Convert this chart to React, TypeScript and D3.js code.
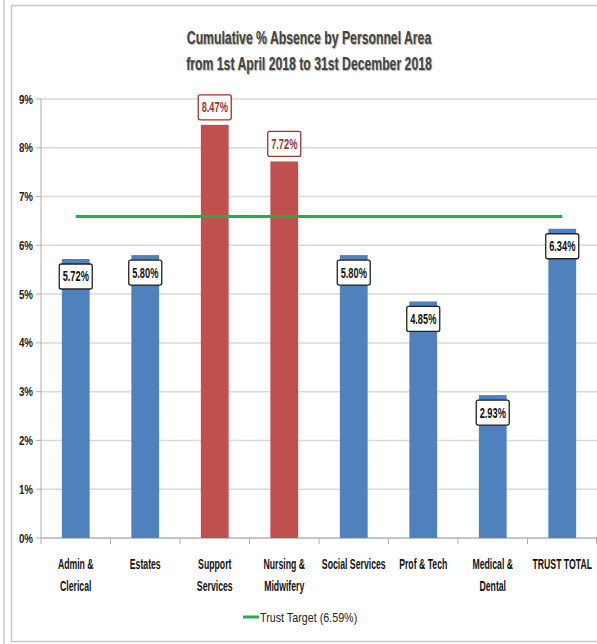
import React from "react";
import * as d3 from "d3";

const categories: string[][] = [
  ["Admin &", "Clerical"],
  ["Estates"],
  ["Support", "Services"],
  ["Nursing &", "Midwifery"],
  ["Social Services"],
  ["Prof & Tech"],
  ["Medical &", "Dental"],
  ["TRUST TOTAL"],
];
const values: number[] = [5.72, 5.8, 8.47, 7.72, 5.8, 4.85, 2.93, 6.34];
const target = 6.59;
const yTicks: number[] = [0, 1, 2, 3, 4, 5, 6, 7, 8, 9];
const titleLines: string[] = [
  "Cumulative % Absence by Personnel Area",
  "from 1st April 2018 to 31st December 2018",
];
const legendLabel = "Trust Target (6.59%)";

const FONT = "'Liberation Sans', Arial, sans-serif";

function CText(props: {
  x: number;
  y: number;
  sx: number;
  anchor?: string;
  size: number;
  weight?: string;
  fill: string;
  children: React.ReactNode;
  style?: React.CSSProperties;
}) {
  const { x, y, sx, anchor = "middle", size, weight = "normal", fill, children, style } = props;
  return (
    <text
      transform={`translate(${x},${y}) scale(${sx},1)`}
      textAnchor={anchor}
      fontSize={size}
      fontWeight={weight}
      fill={fill}
      style={style}
    >
      {children}
    </text>
  );
}

export default function App() {
  const W = 597;
  const H = 644;
  const x0 = 41;
  const x1 = 597;
  const yTop = 99;
  const yBot = 538;
  const x = d3
    .scaleBand<number>()
    .domain(values.map((_, i) => i))
    .range([x0, x1])
    .paddingInner(0.6)
    .paddingOuter(0.3);
  const xb = d3.scaleBand<number>().domain(values.map((_, i) => i)).range([x0, x1]);
  const y = d3.scaleLinear().domain([0, 9]).range([yBot, yTop]);
  const blue = "#4f81bd";
  const red = "#c0504d";
  const isRed = (v: number) => v > target;

  return (
    <svg
      width={W}
      height={H}
      style={{ position: "absolute", left: 0, top: 0, background: "#fff" }}
      fontFamily={FONT}
    >
      {/* frame */}
      <line x1={4} x2={4} y1={0} y2={H} stroke="#c8c8c8" strokeWidth={1.5} />
      <rect x={11.5} y={5.5} width={W} height={636} fill="#fff" stroke="#c8c8c8" strokeWidth={1.5} />

      {/* title */}
      {titleLines.map((t, i) => (
        <CText
          key={i}
          x={309}
          y={44 + i * 26}
          sx={0.68}
          size={18}
          weight="bold"
          fill="#444"
          style={{ textShadow: "1px 1px 1px #aaa" }}
        >
          {t}
        </CText>
      ))}

      {/* gridlines */}
      {yTicks.map((t) => (
        <g key={t}>
          <line x1={x0} x2={x1} y1={y(t)} y2={y(t)} stroke={t === 0 ? "#b0b0b0" : "#d9d9d9"} strokeWidth={1.5} />
          <line x1={x0 - 5} x2={x0} y1={y(t)} y2={y(t)} stroke="#b0b0b0" />
          <CText x={33} y={y(t) + 4.5} sx={0.75} anchor="end" size={13} weight="bold" fill="#222">
            {t}%
          </CText>
        </g>
      ))}
      <line x1={x0} x2={x0} y1={yTop} y2={yBot} stroke="#b0b0b0" />
      {values.map((_, i) => (
        <line
          key={i}
          x1={xb(i) as number}
          x2={xb(i) as number}
          y1={yBot}
          y2={yBot + 6}
          stroke="#b0b0b0"
        />
      ))}
      <line x1={x1 - 0.5} x2={x1 - 0.5} y1={yBot} y2={yBot + 6} stroke="#b0b0b0" />

      {/* bars */}
      {values.map((v, i) => (
        <rect
          key={i}
          x={x(i)}
          y={y(v)}
          width={x.bandwidth()}
          height={yBot - y(v)}
          fill={isRed(v) ? red : blue}
        />
      ))}

      {/* target line */}
      <line
        x1={(xb(0) as number) + xb.bandwidth() / 2}
        x2={(xb(values.length - 1) as number) + xb.bandwidth() / 2}
        y1={y(target)}
        y2={y(target)}
        stroke="#1fb04b"
        strokeWidth={3}
      />

      {/* data labels */}
      {values.map((v, i) => {
        const cx = (x(i) as number) + x.bandwidth() / 2;
        const r = isRed(v);
        const bw = 33;
        const bh = 25;
        const top = r ? y(v) - bh - 5 : y(v) + 5;
        const col = r ? "#9b3532" : "#111";
        return (
          <g key={i}>
            <rect
              x={cx - bw / 2}
              y={top}
              width={bw}
              height={bh}
              rx={2}
              fill="#fff"
              stroke={r ? "#9b3532" : "#222"}
              strokeWidth={1.3}
            />
            <CText x={cx} y={top + bh / 2 + 5} sx={0.66} size={14} weight="bold" fill={col}>
              {v.toFixed(2)}%
            </CText>
          </g>
        );
      })}

      {/* category labels */}
      {categories.map((lines, i) => {
        const cx = (xb(i) as number) + xb.bandwidth() / 2;
        return (
          <g key={i}>
            {lines.map((l, j) => (
              <CText key={j} x={cx} y={569 + j * 22} sx={0.58} size={15} weight="bold" fill="#111">
                {l}
              </CText>
            ))}
          </g>
        );
      })}

      {/* legend */}
      <line x1={243} x2={259} y1={617} y2={617} stroke="#1fb04b" strokeWidth={3} />
      <CText x={260} y={621.5} sx={0.86} anchor="start" size={12.5} fill="#222">
        {legendLabel}
      </CText>
    </svg>
  );
}
